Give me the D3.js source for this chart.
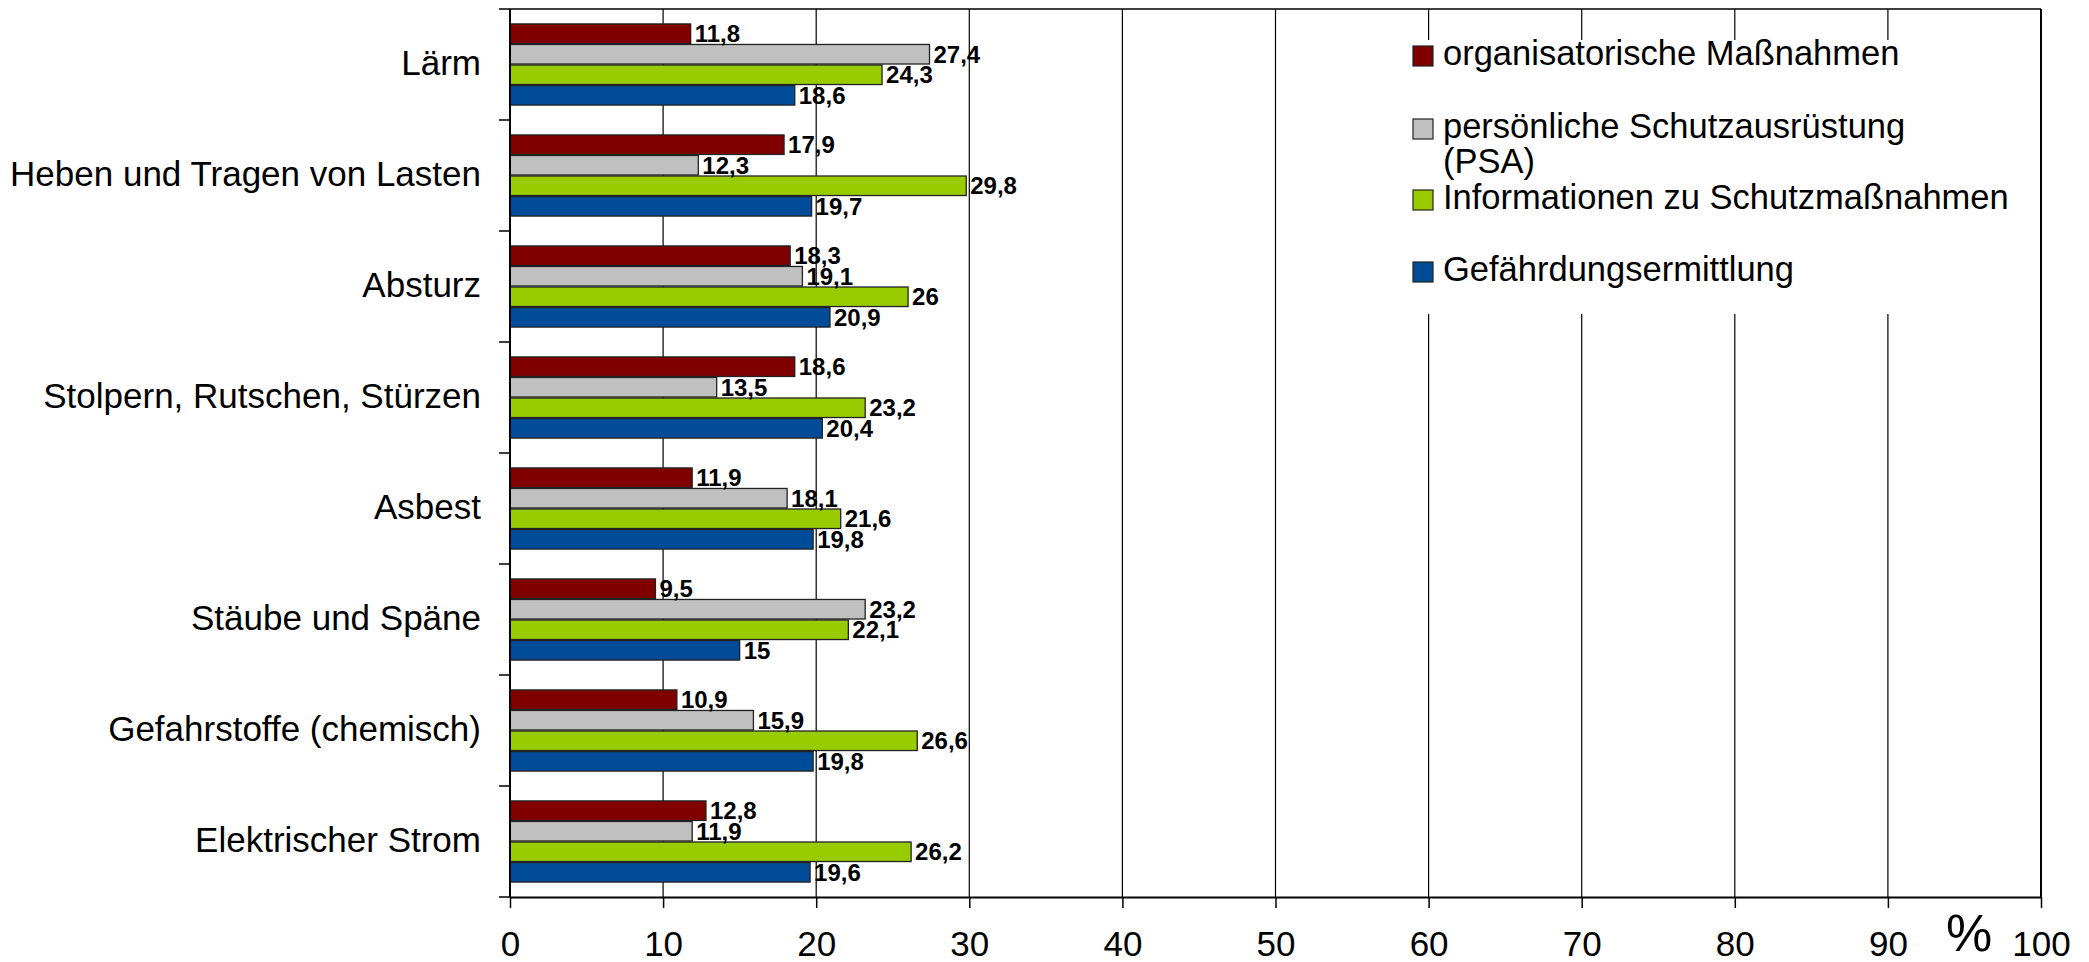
<!DOCTYPE html>
<html><head><meta charset="utf-8">
<script src="https://cdn.jsdelivr.net/npm/d3@7"></script>
<style>body{margin:0;background:#fff}svg{display:block;font-family:"Liberation Sans",Arial,sans-serif}</style>
</head><body>
<script>
const categories = ["Lärm","Heben und Tragen von Lasten","Absturz","Stolpern, Rutschen, Stürzen","Asbest","Stäube und Späne","Gefahrstoffe (chemisch)","Elektrischer Strom"];
const seriesNames = ["organisatorische Maßnahmen","persönliche Schutzausrüstung (PSA)","Informationen zu Schutzmaßnahmen","Gefährdungsermittlung"];
const orgValues  = [11.8,17.9,18.3,18.6,11.9,9.5,10.9,12.8];
const psaValues  = [27.4,12.3,19.1,13.5,18.1,23.2,15.9,11.9];
const infoValues = [24.3,29.8,26,23.2,21.6,22.1,26.6,26.2];
const gefValues  = [18.6,19.7,20.9,20.4,19.8,15,19.8,19.6];
const xTicks = [0,10,20,30,40,50,60,70,80,90,100];
const colors = ["#800000","#c0c0c0","#99cc00","#004c99"];
const allSeries = [orgValues, psaValues, infoValues, gefValues];

const W = 2089, H = 962;
const pLeft = 510, pRight = 2041, pTop = 9, pBottom = 897;

const svg = d3.select("body").append("svg").attr("width", W).attr("height", H);

const x = d3.scaleLinear().domain([0,100]).range([pLeft, pRight]);
const y0 = d3.scaleBand().domain(categories).range([pTop, pBottom]).paddingInner(0.26).paddingOuter(0.13);
const y1 = d3.scaleBand().domain(d3.range(4)).range([0, y0.bandwidth()]).padding(0);

// gridlines
svg.append("g").selectAll("line").data(xTicks.slice(1)).join("line")
  .attr("x1", d => x(d)).attr("x2", d => x(d))
  .attr("y1", pTop).attr("y2", pBottom)
  .attr("stroke", "#000").attr("stroke-width", 1.2);

// frame top/right
svg.append("line").attr("x1", pLeft).attr("x2", pRight).attr("y1", pTop).attr("y2", pTop).attr("stroke","#000").attr("stroke-width",1.5);
svg.append("line").attr("x1", pRight).attr("x2", pRight).attr("y1", pTop).attr("y2", pBottom).attr("stroke","#000").attr("stroke-width",2);

// legend background
const legX = 1400, legY = 40, legW = pRight - 1400 - 2, legH = 274;
svg.append("rect").attr("x", legX).attr("y", legY).attr("width", legW).attr("height", legH).attr("fill", "#fff");

// bars
const groups = svg.append("g").selectAll("g").data(categories).join("g")
  .attr("transform", c => `translate(0,${y0(c)})`);
groups.selectAll("rect").data((c, i) => allSeries.map((s, k) => ({k, v: s[i]}))).join("rect")
  .attr("x", x(0)).attr("y", d => y1(d.k) + 0.5)
  .attr("width", d => x(d.v) - x(0)).attr("height", y1.bandwidth() - 1)
  .attr("fill", d => colors[d.k]).attr("stroke", "#222").attr("stroke-width", 1.3);
groups.selectAll("text").data((c, i) => allSeries.map((s, k) => ({k, v: s[i]}))).join("text")
  .attr("x", d => x(d.v) + 4).attr("y", d => y1(d.k) + y1.bandwidth() / 2 + 2)
  .attr("dominant-baseline", "middle")
  .attr("font-size", 24).attr("font-weight", "bold").attr("fill", "#000")
  .text(d => String(d.v).replace(".", ","));

// x axis
const xAxis = d3.axisBottom(x).tickValues(xTicks).tickSize(11).tickPadding(23).tickSizeOuter(0);
const gx = svg.append("g").attr("transform", `translate(0,${pBottom})`).call(xAxis);
gx.select(".domain").attr("stroke", "#000").attr("stroke-width", 2);
gx.selectAll(".tick line").attr("stroke", "#000").attr("stroke-width", 1.5);
gx.selectAll(".tick text").attr("font-size", 35).attr("font-family", '"Liberation Sans",Arial,sans-serif').attr("fill", "#000");

// y axis with ticks at band boundaries
svg.append("line").attr("x1", pLeft).attr("x2", pLeft).attr("y1", pTop).attr("y2", pBottom).attr("stroke","#000").attr("stroke-width",2);
const step = y0.step();
const boundaries = d3.range(categories.length + 1).map(i => pTop + i * step);
svg.append("g").selectAll("line").data(boundaries).join("line")
  .attr("x1", pLeft - 11).attr("x2", pLeft).attr("y1", d => d).attr("y2", d => d)
  .attr("stroke", "#000").attr("stroke-width", 1.5);
svg.append("g").selectAll("text").data(categories).join("text")
  .attr("x", 481).attr("y", c => y0(c) + y0.bandwidth() / 2 + 1)
  .attr("text-anchor", "end").attr("dominant-baseline", "middle")
  .attr("font-size", 35).attr("fill", "#000").text(c => c);

// % label
svg.append("text").attr("x", 1969).attr("y", 951).attr("text-anchor", "middle")
  .attr("font-size", 52).attr("fill", "#000").text("%");

// legend
const legItems = [
  {k:0, y:56, lines:["organisatorische Maßnahmen"]},
  {k:1, y:129, lines:["persönliche Schutzausrüstung","(PSA)"]},
  {k:2, y:200, lines:["Informationen zu Schutzmaßnahmen"]},
  {k:3, y:272, lines:["Gefährdungsermittlung"]}
];
const leg = svg.append("g");
legItems.forEach(it => {
  leg.append("rect").attr("x", 1413).attr("y", it.y - 10).attr("width", 20).attr("height", 20)
    .attr("fill", colors[it.k]).attr("stroke", "#222").attr("stroke-width", 1.2);
  const t = leg.append("text").attr("x", 1443).attr("y", it.y).attr("font-size", 34.5).attr("fill", "#000")
    .attr("dominant-baseline", "middle");
  it.lines.forEach((ln, i) => t.append("tspan").attr("x", 1443).attr("dy", i === 0 ? 0 : 35).text(ln));
});
</script>
</body></html>
